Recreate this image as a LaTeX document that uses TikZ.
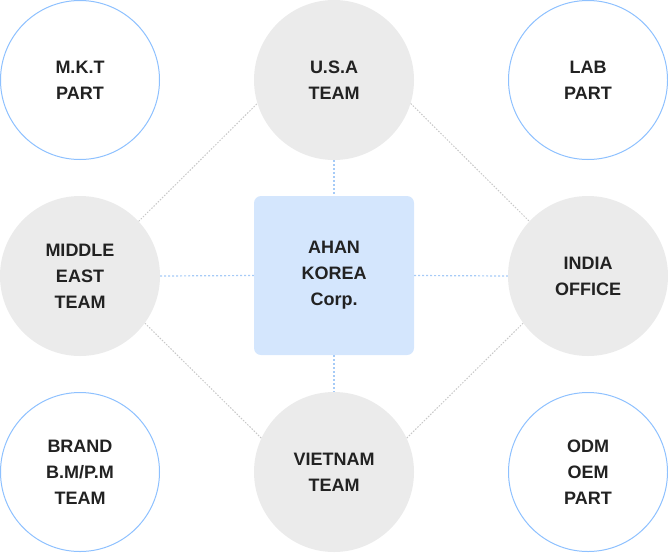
\documentclass[tikz,border=0pt]{standalone}
\usepackage{fontspec}
\setmainfont{Liberation Sans}
\definecolor{ringblue}{HTML}{8EC1FF}
\definecolor{softgray}{HTML}{EBEBEB}
\definecolor{boxblue}{HTML}{D4E6FD}
\definecolor{txt}{HTML}{222222}
\definecolor{dotblue}{HTML}{A6CBF7}
\definecolor{dotgray}{HTML}{C8C8C8}
\tikzset{
  lbl/.style={align=center, text=txt, font=\fontsize{18}{26}\selectfont\bfseries},
  ring/.style={lbl, circle, draw=ringblue, line width=1pt, fill=white, minimum size=159pt, inner sep=0pt},
  disc/.style={lbl, circle, fill=softgray, minimum size=160pt, inner sep=0pt},
  hub/.style={lbl, rectangle, rounded corners=7pt, fill=boxblue, minimum width=160pt, minimum height=159pt, inner sep=0pt},
  bluelink/.style={draw=dotblue, line width=1.2pt, dash pattern=on 2pt off 2pt},
  graylink/.style={draw=dotgray, line width=1pt, dash pattern=on 1.5pt off 1.5pt}
}
\begin{document}
\begin{tikzpicture}[x=1pt, y=-1pt]
\useasboundingbox (0,0) rectangle (668,552);
\node[ring] (mkt)   at (80,80)  {M.K.T\\PART};
\node[disc] (usa)   at (334,80) {U.S.A\\TEAM};
\node[ring] (lab)   at (588,80) {LAB\\PART};
\node[disc] (mid)   at (80,276) {MIDDLE\\EAST\\TEAM};
\node[hub]  (hq)    at (334,275.5) {AHAN\\KOREA\\Corp.};
\node[disc] (india) at (588,276) {INDIA\\OFFICE};
\node[ring] (brand) at (80,472) {BRAND\\B.M/P.M\\TEAM};
\node[disc] (viet)  at (334,472) {VIETNAM\\TEAM};
\node[ring] (odm)   at (588,472) {ODM\\OEM\\PART};
\draw[bluelink] (usa.south) -- (hq.north);
\draw[bluelink] (hq.south) -- (viet.north);
\draw[bluelink] (mid.east) -- (hq.west);
\draw[bluelink] (hq.east) -- (india.west);
\draw[graylink] (mid.43.5) -- (usa.197.3);
\draw[graylink] (usa.-17.3) -- (india.137);
\draw[graylink] (mid.-36) -- (viet.155);
\draw[graylink] (india.216) -- (viet.25);
\end{tikzpicture}
\end{document}
